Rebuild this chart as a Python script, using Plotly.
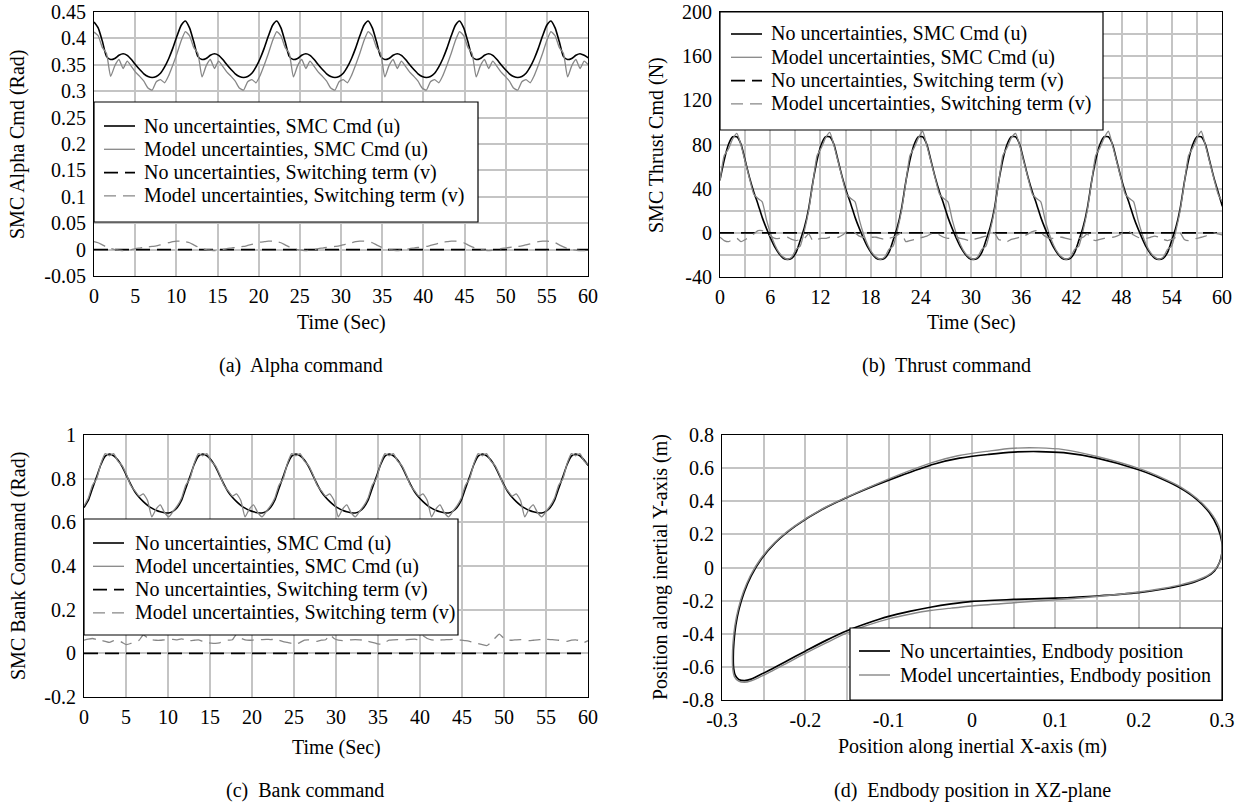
import plotly.graph_objects as go

# ---------------- sampling instants (s) ----------------
PERIOD = 11.1
SAMPLES_PER_PERIOD = 22
TIME = [round(k * PERIOD / SAMPLES_PER_PERIOD, 4) for k in range(120)]
V_TIME = [0, 60]

# ---------------- (a) Alpha command (rad) ----------------
ALPHA_U_NOMINAL = [
    0.431, 0.42, 0.395, 0.366, 0.36, 0.362, 0.368, 0.371, 0.368, 0.36, 0.35, 0.341, 0.333, 0.328, 0.326, 0.328, 0.334, 0.346, 0.362, 0.382, 0.405, 0.425,
    0.433, 0.42, 0.394, 0.366, 0.36, 0.362, 0.368, 0.371, 0.368, 0.36, 0.35, 0.341, 0.333, 0.328, 0.326, 0.328, 0.334, 0.346, 0.362, 0.382, 0.405, 0.425,
    0.433, 0.42, 0.394, 0.366, 0.36, 0.362, 0.368, 0.371, 0.368, 0.36, 0.35, 0.341, 0.333, 0.328, 0.326, 0.328, 0.334, 0.346, 0.362, 0.382, 0.405, 0.425,
    0.433, 0.42, 0.394, 0.366, 0.36, 0.362, 0.368, 0.371, 0.368, 0.36, 0.35, 0.341, 0.333, 0.328, 0.326, 0.328, 0.334, 0.346, 0.362, 0.382, 0.405, 0.425,
    0.433, 0.42, 0.394, 0.366, 0.36, 0.362, 0.368, 0.371, 0.368, 0.36, 0.35, 0.341, 0.333, 0.328, 0.326, 0.328, 0.334, 0.346, 0.362, 0.382, 0.405, 0.425,
    0.433, 0.42, 0.394, 0.366, 0.36, 0.362, 0.368, 0.371, 0.368, 0.363,
]
ALPHA_U_MODEL = [
    0.412, 0.405, 0.383, 0.372, 0.328, 0.348, 0.36, 0.343, 0.357, 0.347, 0.336, 0.328, 0.319, 0.306, 0.302, 0.318, 0.322, 0.316, 0.33, 0.35, 0.372, 0.396,
    0.413, 0.405, 0.383, 0.372, 0.327, 0.348, 0.36, 0.343, 0.357, 0.347, 0.336, 0.328, 0.319, 0.306, 0.302, 0.318, 0.322, 0.316, 0.33, 0.35, 0.372, 0.396,
    0.413, 0.405, 0.383, 0.372, 0.327, 0.348, 0.36, 0.343, 0.357, 0.347, 0.336, 0.328, 0.319, 0.306, 0.302, 0.318, 0.322, 0.316, 0.33, 0.35, 0.372, 0.396,
    0.413, 0.405, 0.383, 0.372, 0.327, 0.348, 0.36, 0.343, 0.357, 0.347, 0.336, 0.328, 0.319, 0.306, 0.302, 0.318, 0.322, 0.316, 0.33, 0.35, 0.372, 0.396,
    0.413, 0.405, 0.383, 0.372, 0.327, 0.348, 0.36, 0.343, 0.357, 0.347, 0.336, 0.328, 0.319, 0.306, 0.302, 0.318, 0.322, 0.316, 0.33, 0.35, 0.372, 0.396,
    0.413, 0.405, 0.383, 0.372, 0.327, 0.348, 0.36, 0.343, 0.357, 0.35,
]
ALPHA_V_NOMINAL = [0.0, 0.0]
ALPHA_V_MODEL = [
    0.015, 0.013, 0.009, 0.005, 0.002, 0.0, -0.001, -0.002, -0.001, 0.0, 0.002, 0.003, 0.004, 0.005, 0.006, 0.007, 0.009, 0.011, 0.013, 0.015, 0.016, 0.016,
    0.015, 0.013, 0.009, 0.005, 0.002, 0.0, -0.001, -0.002, -0.001, 0.0, 0.002, 0.003, 0.004, 0.005, 0.006, 0.008, 0.010, 0.012, 0.014, 0.015, 0.016, 0.016,
    0.015, 0.013, 0.009, 0.005, 0.002, 0.0, -0.001, -0.002, -0.001, 0.0, 0.002, 0.003, 0.004, 0.005, 0.006, 0.007, 0.009, 0.011, 0.013, 0.015, 0.016, 0.016,
    0.015, 0.013, 0.009, 0.005, 0.002, 0.0, -0.001, -0.002, -0.001, 0.0, 0.002, 0.003, 0.004, 0.005, 0.006, 0.008, 0.010, 0.012, 0.014, 0.015, 0.016, 0.016,
    0.015, 0.013, 0.009, 0.005, 0.002, 0.0, -0.001, -0.002, -0.001, 0.0, 0.002, 0.003, 0.004, 0.005, 0.006, 0.007, 0.009, 0.011, 0.013, 0.015, 0.016, 0.016,
    0.015, 0.013, 0.009, 0.005, 0.002, 0.0, -0.001, -0.002, -0.002, -0.001,
]

# ---------------- (b) Thrust command (N) ----------------
THRUST_U_NOMINAL = [
    48, 66, 80, 87, 87, 80, 65, 50, 37, 26, 14, 4, -5, -13, -19, -23, -24, -23, -18, -7, 5, 22,
    46, 66, 80, 87, 87, 80, 65, 50, 37, 26, 14, 4, -5, -13, -19, -23, -24, -23, -18, -7, 5, 22,
    46, 66, 80, 87, 87, 80, 65, 50, 37, 26, 14, 4, -5, -13, -19, -23, -24, -23, -18, -7, 5, 22,
    46, 66, 80, 87, 87, 80, 65, 50, 37, 26, 14, 4, -5, -13, -19, -23, -24, -23, -18, -7, 5, 22,
    46, 66, 80, 87, 87, 80, 65, 50, 37, 26, 14, 4, -5, -13, -19, -23, -24, -23, -18, -7, 5, 22,
    46, 66, 80, 87, 87, 80, 65, 50, 37, 24,
]
THRUST_U_MODEL = [
    47, 70, 76, 85, 90, 79, 64, 49, 35, 31, 28, 12, -1, -11, -18, -22, -24, -22, -15, -12, 2, 20,
    45, 70, 77, 86, 91, 79, 64, 49, 35, 31, 28, 12, -1, -11, -18, -22, -24, -22, -15, -12, 2, 20,
    45, 70, 77, 86, 92, 79, 64, 49, 35, 31, 28, 12, -1, -11, -18, -22, -24, -22, -15, -12, 2, 20,
    45, 70, 77, 86, 90, 79, 64, 49, 35, 31, 28, 12, -1, -11, -18, -22, -24, -22, -15, -12, 2, 20,
    45, 70, 77, 86, 92, 79, 64, 49, 35, 31, 28, 12, -1, -11, -18, -22, -24, -22, -15, -12, 2, 20,
    45, 70, 77, 86, 92, 79, 64, 49, 35, 28,
]
THRUST_V_NOMINAL = [0.0, 0.0]
THRUST_V_MODEL = [
    -4, -7, -8, -6, -5, -8, -6, -4, -1, 2, 2, 0, -3, -5, -5, -4, -4, -6, -7, -6, -5, -1,
    -7, -6, -5, -5, -4, -4, -4, -2, 1, 2, 0, -3, -4, -4, -4, -4, -5, -6, -5, -4, -2, 0,
    -8, -7, -6, -5, -4, -3, -1, 0, -2, -4, -5, -4, -4, -5, -6, -7, -6, -5, -4, -3, -2, 0,
    -6, -7, -8, -6, -5, -4, -3, -1, 1, 2, 0, -3, -5, -5, -4, -4, -5, -6, -6, -5, -4, -1,
    -6, -7, -6, -5, -4, -4, -3, -1, 2, 1, -2, -4, -5, -5, -4, -3, -4, -6, -7, -6, -4, 0,
    -6, -7, -6, -5, -4, -3, -1, 0, -1, -2,
]

# ---------------- (c) Bank command (rad) ----------------
BANK_U_NOMINAL = [
    0.668, 0.70, 0.755, 0.81, 0.865, 0.903, 0.913, 0.905, 0.885, 0.855, 0.815, 0.775, 0.74, 0.715, 0.695, 0.678, 0.665, 0.655, 0.648, 0.644, 0.643, 0.65,
    0.668, 0.70, 0.755, 0.81, 0.865, 0.903, 0.913, 0.905, 0.885, 0.855, 0.815, 0.775, 0.74, 0.715, 0.695, 0.678, 0.665, 0.655, 0.648, 0.644, 0.643, 0.65,
    0.668, 0.70, 0.755, 0.81, 0.865, 0.903, 0.913, 0.905, 0.885, 0.855, 0.815, 0.775, 0.74, 0.715, 0.695, 0.678, 0.665, 0.655, 0.648, 0.644, 0.643, 0.65,
    0.668, 0.70, 0.755, 0.81, 0.865, 0.903, 0.913, 0.905, 0.885, 0.855, 0.815, 0.775, 0.74, 0.715, 0.695, 0.678, 0.665, 0.655, 0.648, 0.644, 0.643, 0.65,
    0.668, 0.70, 0.755, 0.81, 0.865, 0.903, 0.913, 0.905, 0.885, 0.855, 0.815, 0.775, 0.74, 0.715, 0.695, 0.678, 0.665, 0.655, 0.648, 0.644, 0.643, 0.65,
    0.668, 0.70, 0.755, 0.81, 0.865, 0.903, 0.913, 0.905, 0.885, 0.86,
]
BANK_U_MODEL = [
    0.675, 0.71, 0.77, 0.80, 0.87, 0.915, 0.905, 0.915, 0.88, 0.86, 0.82, 0.77, 0.745, 0.72, 0.73, 0.70, 0.625, 0.66, 0.68, 0.645, 0.625, 0.65,
    0.675, 0.71, 0.77, 0.80, 0.87, 0.915, 0.905, 0.915, 0.88, 0.86, 0.82, 0.77, 0.745, 0.72, 0.73, 0.70, 0.625, 0.66, 0.68, 0.645, 0.625, 0.65,
    0.675, 0.71, 0.77, 0.80, 0.87, 0.915, 0.905, 0.915, 0.88, 0.86, 0.82, 0.77, 0.745, 0.72, 0.73, 0.70, 0.625, 0.66, 0.68, 0.645, 0.625, 0.65,
    0.675, 0.71, 0.77, 0.80, 0.87, 0.915, 0.905, 0.915, 0.88, 0.86, 0.82, 0.77, 0.745, 0.72, 0.73, 0.70, 0.625, 0.66, 0.68, 0.645, 0.625, 0.65,
    0.675, 0.71, 0.77, 0.80, 0.87, 0.915, 0.905, 0.915, 0.88, 0.86, 0.82, 0.77, 0.745, 0.72, 0.73, 0.70, 0.625, 0.66, 0.68, 0.645, 0.625, 0.65,
    0.675, 0.71, 0.77, 0.80, 0.87, 0.915, 0.905, 0.915, 0.88, 0.865,
]
BANK_V_NOMINAL = [0.0, 0.0]
BANK_V_MODEL = [
    0.06, 0.065, 0.068, 0.063, 0.06, 0.055, 0.05, 0.058, 0.06, 0.05, 0.04, 0.045, 0.055, 0.06, 0.085, 0.07, 0.062, 0.06, 0.06, 0.062, 0.063, 0.064,
    0.062, 0.066, 0.062, 0.058, 0.06, 0.062, 0.055, 0.05, 0.047, 0.046, 0.048, 0.055, 0.06, 0.062, 0.088, 0.07, 0.062, 0.06, 0.061, 0.062, 0.063, 0.064,
    0.063, 0.064, 0.06, 0.054, 0.05, 0.045, 0.042, 0.05, 0.06, 0.062, 0.058, 0.055, 0.06, 0.062, 0.085, 0.068, 0.06, 0.058, 0.06, 0.062, 0.063, 0.062,
    0.06, 0.055, 0.05, 0.045, 0.042, 0.05, 0.06, 0.062, 0.063, 0.06, 0.062, 0.064, 0.065, 0.062, 0.08, 0.068, 0.062, 0.06, 0.061, 0.062, 0.063, 0.064,
    0.063, 0.06, 0.058, 0.055, 0.05, 0.045, 0.04, 0.035, 0.05, 0.07, 0.088, 0.07, 0.062, 0.06, 0.062, 0.063, 0.06, 0.058, 0.06, 0.062, 0.063, 0.064,
    0.063, 0.062, 0.06, 0.058, 0.055, 0.06, 0.062, 0.058, 0.05, 0.058,
]

# ---------------- (d) Endbody position (m) ----------------
ENDBODY_X_NOMINAL = [
    -0.2865, -0.2857, -0.2835, -0.2795, -0.2735, -0.265, -0.253, -0.236, -0.212, -0.18, -0.138, -0.088, -0.045, -0.015,
    0.02, 0.05, 0.08, 0.11, 0.15, 0.2, 0.23, 0.25, 0.27, 0.285, 0.295, 0.3,
    0.3, 0.297, 0.291, 0.282, 0.268, 0.25, 0.23, 0.2, 0.15, 0.1, 0.05, 0.0,
    -0.025, -0.05, -0.075, -0.1, -0.125, -0.15, -0.175, -0.2, -0.225, -0.245, -0.256, -0.265, -0.273, -0.28, -0.284, -0.286, -0.2865,
]
ENDBODY_Y_NOMINAL = [
    -0.54, -0.45, -0.35, -0.25, -0.15, -0.05, 0.05, 0.15, 0.25, 0.35, 0.45, 0.55, 0.625, 0.66,
    0.683, 0.697, 0.70, 0.693, 0.66, 0.59, 0.53, 0.48, 0.41, 0.33, 0.24, 0.15,
    0.09, 0.03, -0.02, -0.055, -0.085, -0.11, -0.13, -0.152, -0.172, -0.185, -0.193, -0.205,
    -0.22, -0.24, -0.265, -0.295, -0.335, -0.382, -0.44, -0.505, -0.572, -0.625, -0.652, -0.674, -0.683, -0.676, -0.652, -0.61, -0.54,
]
ENDBODY_X_MODEL = [
    -0.2875, -0.2867, -0.2845, -0.2805, -0.2745, -0.266, -0.254, -0.237, -0.213, -0.181, -0.139, -0.09, -0.047, -0.017,
    0.02, 0.05, 0.08, 0.11, 0.15, 0.2, 0.23, 0.25, 0.27, 0.285, 0.296, 0.3,
    0.3, 0.298, 0.292, 0.284, 0.27, 0.25, 0.23, 0.2, 0.15, 0.1, 0.05, 0.0,
    -0.025, -0.05, -0.075, -0.1, -0.125, -0.15, -0.175, -0.2, -0.225, -0.245, -0.256, -0.265, -0.273, -0.28, -0.285, -0.287, -0.2875,
]
ENDBODY_Y_MODEL = [
    -0.54, -0.45, -0.35, -0.25, -0.15, -0.05, 0.05, 0.15, 0.25, 0.35, 0.45, 0.555, 0.635, 0.675,
    0.703, 0.72, 0.722, 0.712, 0.67, 0.598, 0.537, 0.487, 0.417, 0.34, 0.25, 0.16,
    0.1, 0.04, -0.01, -0.045, -0.077, -0.105, -0.125, -0.148, -0.175, -0.195, -0.213, -0.232,
    -0.245, -0.26, -0.282, -0.31, -0.348, -0.395, -0.455, -0.518, -0.585, -0.638, -0.665, -0.684, -0.693, -0.686, -0.66, -0.615, -0.54,
]

# ---------------- tick labels ----------------
TIME_TICKS_5 = [0, 5, 10, 15, 20, 25, 30, 35, 40, 45, 50, 55, 60]
TIME_TICKS_6 = [0, 6, 12, 18, 24, 30, 36, 42, 48, 54, 60]
ALPHA_TICKS = [-0.05, 0, 0.05, 0.1, 0.15, 0.2, 0.25, 0.3, 0.35, 0.4, 0.45]
ALPHA_TICK_TEXT = ["-0.05", "0", "0.05", "0.1", "0.15", "0.2", "0.25", "0.3", "0.35", "0.4", "0.45"]
THRUST_TICKS = [-40, 0, 40, 80, 120, 160, 200]
THRUST_TICK_TEXT = ["-40", "0", "40", "80", "120", "160", "200"]
BANK_TICKS = [-0.2, 0, 0.2, 0.4, 0.6, 0.8, 1]
BANK_TICK_TEXT = ["-0.2", "0", "0.2", "0.4", "0.6", "0.8", "1"]
POSX_TICKS = [-0.3, -0.2, -0.1, 0, 0.1, 0.2, 0.3]
POSX_TICK_TEXT = ["-0.3", "-0.2", "-0.1", "0", "0.1", "0.2", "0.3"]
POSY_TICKS = [-0.8, -0.6, -0.4, -0.2, 0, 0.2, 0.4, 0.6, 0.8]
POSY_TICK_TEXT = ["-0.8", "-0.6", "-0.4", "-0.2", "0", "0.2", "0.4", "0.6", "0.8"]

NAMES = [
    "No uncertainties, SMC Cmd (u)",
    "Model uncertainties, SMC Cmd (u)",
    "No uncertainties, Switching term (v)",
    "Model uncertainties, Switching term (v)",
]
END_NAMES = ["No uncertainties, Endbody position", "Model uncertainties, Endbody position"]

# ---------------- styling ----------------
W, H = 1245, 807
FONT = "Liberation Serif, Times New Roman, serif"
FS = 20
BLACK = "#000000"
GREY = "#878787"
GRID = "#c4c4c4"

STYLE_U_NOM = dict(color=BLACK, width=1.6)
STYLE_U_MOD = dict(color=GREY, width=1.3)
STYLE_V_NOM = dict(color=BLACK, width=1.6, dash="14px,7px")
STYLE_V_MOD = dict(color=GREY, width=1.3, dash="12px,7px")
STYLES = [STYLE_U_NOM, STYLE_U_MOD, STYLE_V_NOM, STYLE_V_MOD]

fig = go.Figure()


def add_time_panel(xa, ya, u_nom, u_mod, v_nom, v_mod):
    fig.add_trace(go.Scatter(x=TIME, y=u_nom, mode="lines", name=NAMES[0], showlegend=False,
                             line=dict(**STYLE_U_NOM, shape="spline", smoothing=0.6),
                             xaxis=xa, yaxis=ya))
    fig.add_trace(go.Scatter(x=TIME, y=u_mod, mode="lines", name=NAMES[1], showlegend=False,
                             line=dict(**STYLE_U_MOD, shape="spline", smoothing=0.5),
                             xaxis=xa, yaxis=ya))
    fig.add_trace(go.Scatter(x=V_TIME, y=v_nom, mode="lines", name=NAMES[2], showlegend=False,
                             line=dict(**STYLE_V_NOM), xaxis=xa, yaxis=ya))
    fig.add_trace(go.Scatter(x=TIME, y=v_mod, mode="lines", name=NAMES[3], showlegend=False,
                             line=dict(**STYLE_V_MOD, shape="spline", smoothing=0.5),
                             xaxis=xa, yaxis=ya))


add_time_panel("x", "y", ALPHA_U_NOMINAL, ALPHA_U_MODEL, ALPHA_V_NOMINAL, ALPHA_V_MODEL)
add_time_panel("x2", "y2", THRUST_U_NOMINAL, THRUST_U_MODEL, THRUST_V_NOMINAL, THRUST_V_MODEL)
add_time_panel("x3", "y3", BANK_U_NOMINAL, BANK_U_MODEL, BANK_V_NOMINAL, BANK_V_MODEL)

fig.add_trace(go.Scatter(x=ENDBODY_X_NOMINAL, y=ENDBODY_Y_NOMINAL, mode="lines", name=END_NAMES[0],
                         showlegend=False, line=dict(color=BLACK, width=1.7, shape="spline", smoothing=0.9),
                         xaxis="x4", yaxis="y4"))
fig.add_trace(go.Scatter(x=ENDBODY_X_MODEL, y=ENDBODY_Y_MODEL, mode="lines", name=END_NAMES[1],
                         showlegend=False, line=dict(color=GREY, width=1.4, shape="spline", smoothing=0.9),
                         xaxis="x4", yaxis="y4"))


def px_x(p):
    return p / W


def px_y(p):
    return 1 - p / H


def axis(domain, rng, tickvals, ticktext, anchor, minor_dtick=None, is_x=True):
    d = dict(domain=domain, range=rng, tickmode="array", tickvals=tickvals, ticktext=ticktext,
             showgrid=True, gridcolor=GRID, gridwidth=1.5, zeroline=False,
             showline=True, linecolor=BLACK, linewidth=1.2, mirror=True,
             ticks="outside", ticklen=2 if is_x else 3, tickcolor="rgba(0,0,0,0)",
             tickfont=dict(family=FONT, size=FS, color=BLACK), anchor=anchor,
             ticklabeloverflow="allow", fixedrange=True, automargin=False)
    if minor_dtick is not None:
        d["minor"] = dict(dtick=minor_dtick, tick0=rng[0], showgrid=True, gridcolor=GRID,
                          gridwidth=1.5, ticks="")
    return d


fig.update_layout(
    width=W, height=H, margin=dict(l=0, r=0, t=0, b=0, autoexpand=False),
    paper_bgcolor="white", plot_bgcolor="white", showlegend=False,
    font=dict(family=FONT, size=FS, color=BLACK),
    xaxis=axis([px_x(94), px_x(588)], [0, 60], TIME_TICKS_5, [str(v) for v in TIME_TICKS_5], "y"),
    yaxis=axis([px_y(276), px_y(12)], [-0.05, 0.45], ALPHA_TICKS, ALPHA_TICK_TEXT, "x", is_x=False),
    xaxis2=axis([px_x(720), px_x(1222)], [0, 60], TIME_TICKS_6, [str(v) for v in TIME_TICKS_6], "y2", minor_dtick=3),
    yaxis2=axis([px_y(277), px_y(12)], [-40, 200], THRUST_TICKS, THRUST_TICK_TEXT, "x2", minor_dtick=20, is_x=False),
    xaxis3=axis([px_x(84), px_x(588)], [0, 60], TIME_TICKS_5, [str(v) for v in TIME_TICKS_5], "y3"),
    yaxis3=axis([px_y(697), px_y(435)], [-0.2, 1], BANK_TICKS, BANK_TICK_TEXT, "x3", is_x=False),
    xaxis4=axis([px_x(722), px_x(1222)], [-0.3, 0.3], POSX_TICKS, POSX_TICK_TEXT, "y4", minor_dtick=0.05),
    yaxis4=axis([px_y(700), px_y(435)], [-0.8, 0.8], POSY_TICKS, POSY_TICK_TEXT, "x4", is_x=False),
)

# ---------------- legends (boxes placed in page pixels) ----------------
# (box x0, y0, x1, y1, sample x0, sample x1, text x, first row y, row step, names, styles)
LEGENDS = [
    (94, 102, 478, 222, 104, 135, 142, 126, 23.3, NAMES, STYLES),
    (720, 12, 1103, 130, 731, 762, 769, 34, 23.3, NAMES, STYLES),
    (84, 519, 458, 635, 93, 124, 133, 543, 23.3, NAMES, STYLES),
    (850, 628, 1222, 700, 859, 890, 898, 651, 24, END_NAMES,
     [dict(color=BLACK, width=1.7), dict(color=GREY, width=1.4)]),
]
for bx0, by0, bx1, by1, sx0, sx1, tx, ry, step, names, styles in LEGENDS:
    fig.add_shape(type="rect", xref="paper", yref="paper", layer="above",
                  x0=px_x(bx0), x1=px_x(bx1), y0=px_y(by1), y1=px_y(by0),
                  fillcolor="white", line=dict(color=BLACK, width=1.2))
    for i, (nm, st) in enumerate(zip(names, styles)):
        yy = ry + i * step
        fig.add_shape(type="line", xref="paper", yref="paper", layer="above",
                      x0=px_x(sx0), x1=px_x(sx1), y0=px_y(yy), y1=px_y(yy), line=st)
        fig.add_annotation(text=nm, x=px_x(tx), y=px_y(yy), xref="paper", yref="paper",
                           xanchor="left", yanchor="middle", showarrow=False,
                           font=dict(family=FONT, size=FS, color=BLACK))

texts = [
    ("SMC Alpha Cmd (Rad)", 18, 145, -90),
    ("SMC Thrust Cmd (N)", 657, 145, -90),
    ("SMC Bank Command (Rad)", 18, 566, -90),
    ("Position along inertial Y-axis (m)", 660, 567, -90),
    ("Time (Sec)", 341, 322, 0),
    ("Time (Sec)", 971, 322, 0),
    ("Time (Sec)", 336, 747, 0),
    ("Position along inertial X-axis (m)", 972, 746, 0),
    ("(a)  Alpha command", 301, 365, 0),
    ("(b)  Thrust command", 946, 365, 0),
    ("(c)  Bank command", 305, 790, 0),
    ("(d)  Endbody position in XZ-plane", 972, 790, 0),
]
for txt, x, y, ang in texts:
    fig.add_annotation(text=txt, x=px_x(x), y=px_y(y), xref="paper", yref="paper",
                       xanchor="center", yanchor="middle", showarrow=False, textangle=ang,
                       font=dict(family=FONT, size=FS, color=BLACK))

# the page's default 8px body margin is removed so the figure sits at the window's corner
fig.write_html("out.html", config={"displayModeBar": False},
               post_script="document.body.style.margin='0px';")
